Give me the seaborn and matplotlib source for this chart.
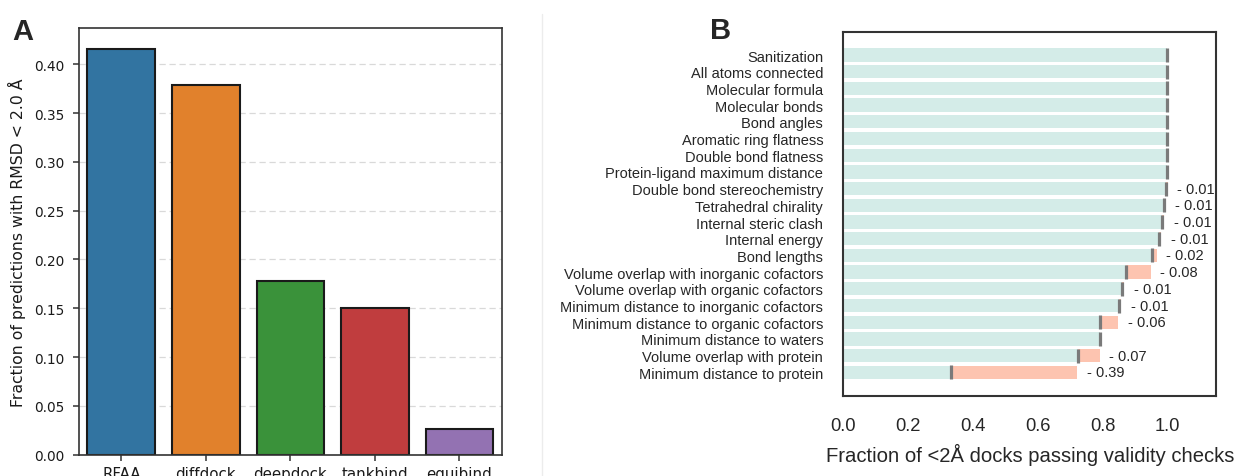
import matplotlib
matplotlib.use("Agg")
import matplotlib.pyplot as plt
from matplotlib.lines import Line2D
import seaborn as sns
import pandas as pd

# Panel A: docking success rate per method
methods = ["RFAA", "diffdock", "deepdock", "tankbind", "equibind"]
success_rate = [0.416, 0.3785, 0.178, 0.150, 0.026]

# Panel B: cumulative fraction of <2Å docks passing each validity check,
# and the drop caused by each check
checks = [
    "Sanitization",
    "All atoms connected",
    "Molecular formula",
    "Molecular bonds",
    "Bond angles",
    "Aromatic ring flatness",
    "Double bond flatness",
    "Protein-ligand maximum distance",
    "Double bond stereochemistry",
    "Tetrahedral chirality",
    "Internal steric clash",
    "Internal energy",
    "Bond lengths",
    "Volume overlap with inorganic cofactors",
    "Volume overlap with organic cofactors",
    "Minimum distance to inorganic cofactors",
    "Minimum distance to organic cofactors",
    "Minimum distance to waters",
    "Volume overlap with protein",
    "Minimum distance to protein",
]
passing = [1.0, 1.0, 1.0, 1.0, 1.0, 1.0, 1.0, 1.0,
           0.995, 0.988, 0.983, 0.973, 0.951, 0.871, 0.860,
           0.850, 0.792, 0.792, 0.725, 0.332]
drop = [0.0, 0.0, 0.0, 0.0, 0.0, 0.0, 0.0, 0.0,
        0.006, 0.006, 0.006, 0.008, 0.016, 0.077, 0.007,
        0.007, 0.056, 0.0, 0.066, 0.390]

W, H = 1238, 477
fig = plt.figure(figsize=(W / 100, H / 100), dpi=100)
sns.set_style("white")


def box(l, t, r, b):
    return [l / W, 1 - b / H, (r - l) / W, (b - t) / H]


# ---------------- Panel A ----------------
axA = fig.add_axes(box(79, 29.3, 501.7, 455.7))
dfA = pd.DataFrame({"method": methods, "rate": success_rate})
sns.barplot(data=dfA, x="method", y="rate", hue="method", palette="tab10",
            legend=False, edgecolor="#1a1a1a", linewidth=1.5, ax=axA,
            zorder=2)
axA.set_axisbelow(True)
axA.yaxis.grid(True, linestyle=(0, (5, 3)), color="#d9d9d9", linewidth=0.9)
axA.set_yticks([0, 0.05, 0.10, 0.15, 0.20, 0.25, 0.30, 0.35, 0.40])
axA.set_ylim(0, 0.4368)
axA.set_xlim(-0.5, 4.5)
axA.set_xlabel("")
axA.set_ylabel("Fraction of predictions with RMSD < 2.0 Å", fontsize=11.3,
               family="DejaVu Sans", color="#1a1a1a", labelpad=6)
axA.tick_params(axis="both", which="major", length=4.3, width=1.1,
                color="#333333", labelcolor="#1a1a1a",
                left=True, bottom=True, pad=6)
axA.tick_params(axis="y", labelsize=9.8)
axA.tick_params(axis="x", labelsize=10.8, pad=4)
for lab in axA.get_xticklabels() + axA.get_yticklabels():
    lab.set_family("DejaVu Sans")
for s in axA.spines.values():
    s.set_color("#333333")
    s.set_linewidth(1.2)

fig.text(12 / W, 1 - 40 / H, "A", fontsize=21, fontweight="bold",
         family="Liberation Sans", va="baseline", ha="left")

# divider between the panels
fig.add_artist(Line2D([542 / W, 542 / W], [0, 1 - 15 / H],
                      color="#ececec", linewidth=1.0))

# ---------------- Panel B ----------------
axB = fig.add_axes(box(843.5, 33.3, 1216, 396.7))
before = [p + d for p, d in zip(passing, drop)]
dfB = pd.DataFrame({"check": checks, "passing": passing, "drop": drop,
                    "before": before})
# fraction before the check (shown as the salmon remainder)
sns.barplot(data=dfB, y="check", x="before", color="#fdc4b0",
            saturation=1, width=0.8, linewidth=0, ax=axB, zorder=1)
# fraction still passing after the check
sns.barplot(data=dfB, y="check", x="passing", color="#d4ece8",
            saturation=1, width=0.8, linewidth=0, ax=axB, zorder=2)
# marker at the passing fraction
sns.scatterplot(data=dfB, y="check", x="passing", marker="|", s=95,
                linewidth=2.3, color="#7a7a7a", ax=axB, zorder=3,
                legend=False)

for i, row in dfB.iterrows():
    if row["drop"] > 0:
        axB.text(row["before"] + 0.03, i, f"- {row['drop']:.2f}",
                 va="center", ha="left", fontsize=10.5,
                 family="Liberation Sans", color="#262626")

axB.set_xlim(0, 1.15)
axB.set_ylim(20.40, -1.36)
axB.set_xticks([0.0, 0.2, 0.4, 0.6, 0.8, 1.0])
axB.set_xticklabels(["0.0", "0.2", "0.4", "0.6", "0.8", "1.0"])
axB.set_ylabel("")
axB.set_xlabel("Fraction of <2Å docks passing validity checks",
               fontsize=14.6, family="Liberation Sans", color="#262626",
               labelpad=7)
axB.tick_params(axis="x", length=0, labelsize=13.2, pad=15,
                labelcolor="#262626")
axB.tick_params(axis="y", length=0, labelsize=10.5, pad=14.6,
                labelcolor="#262626")
for lab in axB.get_xticklabels() + axB.get_yticklabels():
    lab.set_family("Liberation Sans")
for s in axB.spines.values():
    s.set_color("#333333")
    s.set_linewidth(1.5)

fig.text(710 / W, 1 - 39 / H, "B", fontsize=21, fontweight="bold",
         family="Liberation Sans", va="baseline", ha="left")

fig.savefig("out.png", dpi=100)
